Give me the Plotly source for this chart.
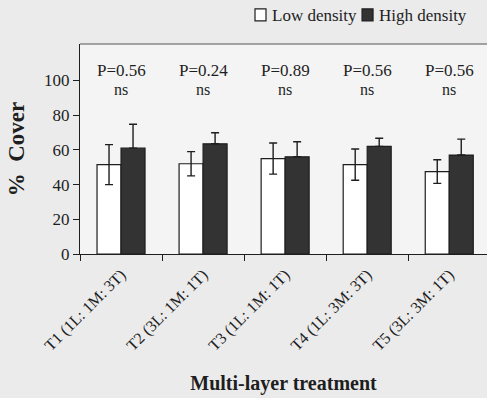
import plotly.graph_objects as go

categories = ["T1 (1L: 1M: 3T)", "T2 (3L: 1M: 1T)", "T3 (1L: 1M: 1T)", "T4 (1L: 3M: 3T)", "T5 (3L: 3M: 1T)"]
low_density = [51.5, 52.0, 55.0, 51.5, 47.5]
low_err = [11.5, 7.0, 9.0, 9.0, 6.8]
high_density = [61.0, 63.5, 56.0, 62.0, 57.0]
high_err = [13.8, 6.4, 8.7, 4.7, 9.2]
p_labels = ["P=0.56", "P=0.24", "P=0.89", "P=0.56", "P=0.56"]
sig_labels = ["ns", "ns", "ns", "ns", "ns"]
y_ticks = [0, 20, 40, 60, 80, 100]
series_names = ["Low density", "High density"]

FONT = "Liberation Serif"
INK = "#1e1e1e"
LOW_FILL = "#ffffff"
HIGH_FILL = "#333333"

fig = go.Figure()
fig.add_trace(go.Bar(
    x=categories, y=low_density, name=series_names[0],
    marker=dict(color=LOW_FILL, line=dict(color=INK, width=1.2)),
    error_y=dict(type="data", array=low_err, color=INK, thickness=1.4, width=4),
))
fig.add_trace(go.Bar(
    x=categories, y=high_density, name=series_names[1],
    marker=dict(color=HIGH_FILL, line=dict(color=INK, width=1.2)),
    error_y=dict(type="data", symmetric=False, array=high_err, arrayminus=[0] * len(high_err),
                 color=INK, thickness=1.4, width=4),
))

for i, (p, s) in enumerate(zip(p_labels, sig_labels)):
    fig.add_annotation(x=i, y=105.5, text=p, showarrow=False,
                       font=dict(family=FONT, size=17, color=INK))
    fig.add_annotation(x=i, y=95, text=s, showarrow=False,
                       font=dict(family=FONT, size=16, color=INK))

# legend: swatch + text, laid out in one line above the plot
legend_items = [(series_names[0], LOW_FILL, 0.430), (series_names[1], HIGH_FILL, 0.693)]
for name, fill, x0 in legend_items:
    fig.add_shape(type="rect", xref="paper", yref="paper", x0=x0, x1=x0 + 0.027,
                  y0=1.110, y1=1.167, fillcolor=fill, line=dict(color=INK, width=1.2))
    fig.add_annotation(xref="paper", yref="paper", x=x0 + 0.037, y=1.138,
                       xanchor="left", yanchor="middle", text=name, showarrow=False,
                       font=dict(family=FONT, size=17, color=INK))

fig.add_shape(type="line", xref="paper", yref="paper", x0=0, x1=1, y0=1, y1=1,
              line=dict(color="#555555", width=1.2))

fig.update_layout(
    width=487, height=398,
    margin=dict(l=80, r=0, t=44, b=144, autoexpand=False),
    paper_bgcolor="#ebebeb", plot_bgcolor="#f4f4f4",
    barmode="group", bargap=0.415, bargroupgap=0,
    font=dict(family=FONT, color=INK),
    showlegend=False,
    xaxis=dict(
        range=[-0.5, 4.46], tickson="boundaries", ticks="outside", ticklen=6,
        tickcolor=INK, tickangle=-45, showline=True, linecolor=INK, linewidth=1.2,
        tickfont=dict(family=FONT, size=16, color=INK), showgrid=False,
        ticklabelstandoff=4,
        title=dict(text="<b>Multi-layer treatment</b>", font=dict(family=FONT, size=20, color=INK), standoff=22),
    ),
    yaxis=dict(
        range=[0, 121], tickvals=y_ticks, ticks="outside", ticklen=6, tickcolor=INK,
        showline=True, linecolor=INK, linewidth=1.2, showgrid=False, zeroline=False,
        tickfont=dict(family=FONT, size=17, color=INK),
        title=dict(text="<b>%  Cover</b>", font=dict(family=FONT, size=23, color=INK), standoff=12),
    ),
)

fig.write_html("out.html", config={"displayModeBar": False},
               post_script="document.body.style.margin='0';")
